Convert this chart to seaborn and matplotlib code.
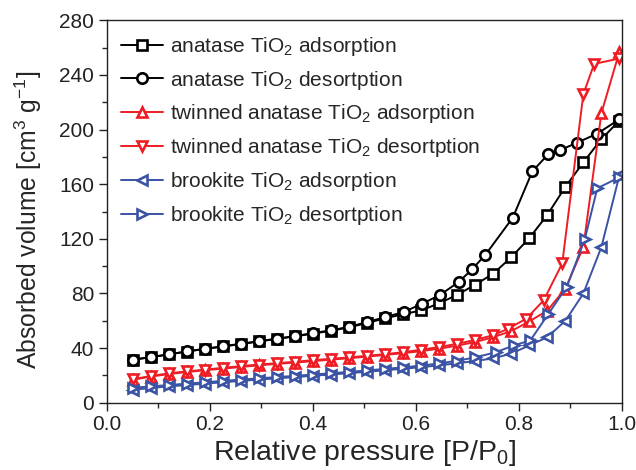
import numpy as np
import pandas as pd
import matplotlib
matplotlib.use('Agg')
import matplotlib.pyplot as plt
from matplotlib.ticker import MultipleLocator
import seaborn as sns

# relative pressure grid used for the adsorption branches
p_ads = [0.05, 0.085, 0.12, 0.155, 0.19, 0.225, 0.26, 0.295, 0.33, 0.365, 0.40, 0.435, 0.47, 0.505,
         0.54, 0.575, 0.61, 0.645, 0.68, 0.715, 0.75, 0.785, 0.82, 0.855, 0.89, 0.925, 0.96, 0.995]

anatase_ads = [31.5, 33.4, 35.4, 37.5, 39.4, 41.2, 43.0, 44.9, 46.8, 48.6, 50.6, 52.7, 55.2, 58.4,
               61.8, 64.8, 67.6, 72.8, 79.0, 86.4, 94.5, 106.5, 120.5, 137.5, 158.0, 176.0, 193.0, 206.5]
p_anatase_des = [0.995, 0.952, 0.913, 0.879, 0.857, 0.826, 0.788, 0.735, 0.709, 0.683, 0.647, 0.612, 0.576, 0.54,
                 0.505, 0.47, 0.435, 0.40, 0.365, 0.33, 0.295, 0.26, 0.225, 0.19, 0.155, 0.12, 0.085, 0.05]
anatase_des = [207.5, 197.0, 190.4, 184.8, 182.0, 169.4, 135.5, 108.4, 97.7, 88.4, 79.0, 72.5, 66.4, 62.7,
               59.0, 55.6, 53.0, 51.0, 48.8, 46.9, 45.0, 43.2, 41.3, 39.5, 37.6, 35.4, 33.4, 31.5]

twin_ads = [16.8, 19.2, 21.0, 22.5, 23.8, 25.0, 26.2, 27.4, 28.5, 29.4, 30.5, 31.6, 32.6, 33.8,
            35.0, 36.3, 37.8, 39.6, 41.8, 44.5, 48.0, 52.5, 59.5, 67.5, 83.5, 114.0, 212.0, 257.0]
p_twin_des = [0.995, 0.946, 0.925, 0.884, 0.848, 0.814, 0.778, 0.75, 0.715, 0.68, 0.645, 0.61, 0.575, 0.54,
              0.505, 0.47, 0.435, 0.40, 0.365, 0.33, 0.295, 0.26, 0.225, 0.19, 0.155, 0.12, 0.085, 0.05]
twin_des = [252.0, 248.0, 226.0, 102.0, 75.0, 61.5, 54.0, 49.5, 46.0, 43.2, 40.8, 38.8, 37.0, 35.6,
            34.4, 33.2, 32.2, 31.2, 30.0, 29.0, 28.0, 26.8, 25.6, 24.2, 23.0, 21.5, 19.6, 17.2]

brook_ads = [9.5, 10.8, 12.0, 13.0, 14.0, 15.0, 16.0, 17.0, 17.9, 18.8, 19.8, 20.7, 21.7, 22.7,
             23.8, 24.9, 26.1, 27.4, 28.9, 30.6, 32.5, 36.0, 42.0, 48.0, 60.0, 80.0, 114.0, 166.5]
p_brook_des = [0.995, 0.952, 0.928, 0.893, 0.857, 0.822, 0.79, 0.755, 0.715, 0.68, 0.645, 0.61, 0.575, 0.54,
               0.505, 0.47, 0.435, 0.40, 0.365, 0.33, 0.295, 0.26, 0.225, 0.19, 0.155, 0.12, 0.085, 0.05]
brook_des = [165.0, 157.0, 120.0, 85.0, 65.0, 45.6, 42.0, 37.0, 33.2, 30.8, 28.8, 27.2, 25.9, 24.8,
             23.7, 22.6, 21.6, 20.7, 19.7, 18.8, 17.9, 17.0, 16.0, 15.0, 14.0, 13.0, 12.0, 11.0]

series = [
    ("anatase TiO$_2$ adsorption", p_ads, anatase_ads, 's', 'black'),
    ("anatase TiO$_2$ desortption", p_anatase_des, anatase_des, 'o', 'black'),
    ("twinned anatase TiO$_2$ adsorption", p_ads, twin_ads, '^', '#ee1c24'),
    ("twinned anatase TiO$_2$ desortption", p_twin_des, twin_des, 'v', '#ee1c24'),
    ("brookite TiO$_2$ adsorption", p_ads, brook_ads, '<', '#3a53a4'),
    ("brookite TiO$_2$ desortption", p_brook_des, brook_des, '>', '#3a53a4'),
]

sns.set_style('ticks')
plt.rcParams['font.family'] = ['Liberation Sans', 'DejaVu Sans']
plt.rcParams['mathtext.fontset'] = 'custom'
plt.rcParams['mathtext.rm'] = 'Liberation Sans'
plt.rcParams['mathtext.it'] = 'Liberation Sans'
plt.rcParams['mathtext.default'] = 'regular'

fig = plt.figure(figsize=(6.36, 4.70), dpi=100)
ax = fig.add_axes([0.168, 0.143, 0.810, 0.814])

for label, xs, ys, mk, col in series:
    df = pd.DataFrame({'p': xs, 'v': ys})
    sns.lineplot(data=df, x='p', y='v', ax=ax, color=col, marker=mk, markersize=7.5,
                 markerfacecolor='white', markeredgecolor=col, markeredgewidth=1.9,
                 linewidth=1.4, estimator=None, sort=True, label=label)

ax.set_xlim(0.0, 1.0)
ax.set_ylim(0, 280)
ax.xaxis.set_major_locator(MultipleLocator(0.2))
ax.xaxis.set_minor_locator(MultipleLocator(0.1))
ax.yaxis.set_major_locator(MultipleLocator(40))
ax.yaxis.set_minor_locator(MultipleLocator(20))
ax.xaxis.set_major_formatter(matplotlib.ticker.FormatStrFormatter('%.1f'))
ax.tick_params(which='major', direction='out', length=6, width=1, labelsize=15, colors='#222222', pad=3)
ax.tick_params(which='minor', direction='out', length=3.5, width=1)
for sp in ax.spines.values():
    sp.set_linewidth(1.0)
    sp.set_color('#222222')

ax.set_xlabel("Relative pressure [P/P$_0$]", fontsize=20.5, labelpad=2.5)
ax.set_ylabel("Absorbed volume [cm$^3$ g$^{-1}$]", fontsize=17.8)
ax.yaxis.set_label_coords(-0.122, 0.478)

leg = ax.legend(loc='upper left', frameon=False, fontsize=15, handlelength=2.0,
                handletextpad=0.35, labelspacing=0.52, borderaxespad=0.3)

plt.savefig("out.png", dpi=100)
plt.close()
